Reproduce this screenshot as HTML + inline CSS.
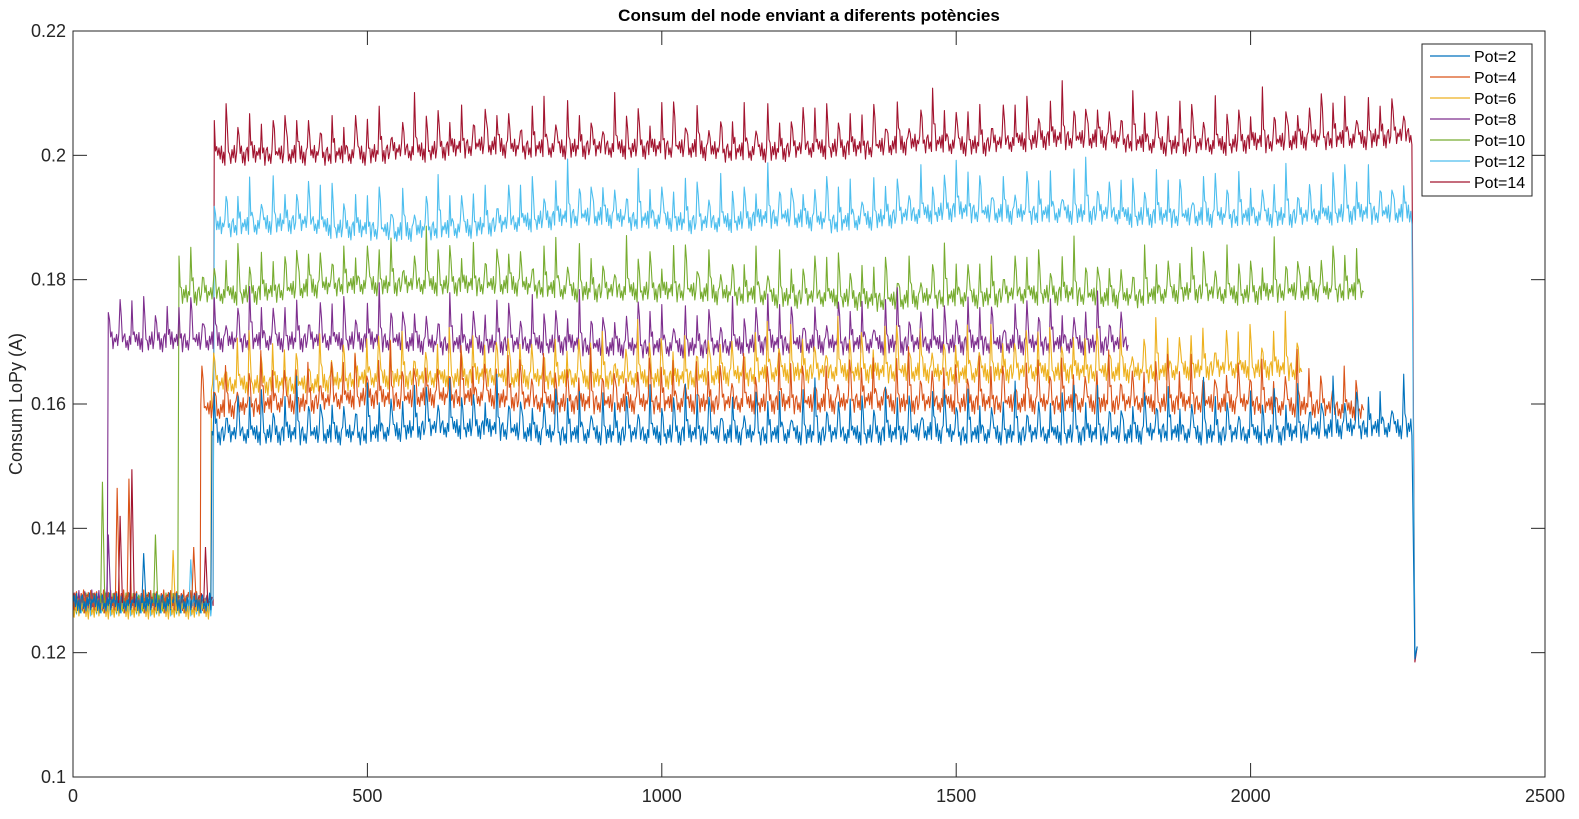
<!DOCTYPE html>
<html><head><meta charset="utf-8">
<style>
html,body{margin:0;padding:0;background:#fff;}
svg{display:block;font-family:"Liberation Sans",Arial,sans-serif;}
</style></head>
<body>
<svg id="chart" width="1579" height="819" viewBox="0 0 1579 819">
<rect x="0" y="0" width="1579" height="819" fill="#fff"/>
<text x="809" y="21" text-anchor="middle" font-size="17" font-weight="bold" fill="#000">Consum del node enviant a diferents potències</text>
<text transform="translate(22,404) rotate(-90)" text-anchor="middle" font-size="18" fill="#262626">Consum LoPy (A)</text>
<g id="plot"></g>
<g id="axes"></g>
<g id="legend"></g>
</svg>
<script>
const xTicks=[0,500,1000,1500,2000,2500];
const yTicks=[0.1,0.12,0.14,0.16,0.18,0.2,0.22];
const yTickLabels=["0.1","0.12","0.14","0.16","0.18","0.2","0.22"];
const seriesNames=["Pot=2","Pot=4","Pot=6","Pot=8","Pot=10","Pot=12","Pot=14"];
const seriesColors=["#0072BD","#D95319","#EDB120","#7E2F8E","#77AC30","#4DBEEE","#A2142F"];
const jumpX=[236,217,235,60,180,240,240];
const endX=[2275,2190,2085,1790,2190,2275,2275];
const preLevel=[0.128,0.1285,0.127,0.1285,0.128,0.1275,0.128];
// baseline levels every 50 units from 250 to 2250
const base2=[0.155,0.155,0.155,0.155,0.155,0.155,0.1555,0.156,0.156,0.156,0.1555,0.155,0.155,0.155,0.155,0.155,0.155,0.155,0.155,0.155,0.155,0.155,0.155,0.155,0.1555,0.155,0.155,0.155,0.155,0.155,0.155,0.155,0.1555,0.155,0.155,0.155,0.155,0.1555,0.156,0.156,0.156];
const base4=[0.159,0.1595,0.16,0.16,0.1605,0.161,0.1605,0.161,0.161,0.161,0.1605,0.16,0.16,0.16,0.16,0.16,0.16,0.16,0.16,0.16,0.16,0.16,0.1605,0.16,0.16,0.16,0.16,0.16,0.16,0.16,0.16,0.16,0.16,0.16,0.16,0.16,0.1595,0.1595,0.159,0.159,0.159];
const base6=[0.163,0.163,0.163,0.163,0.1635,0.164,0.164,0.164,0.164,0.1645,0.164,0.164,0.164,0.164,0.164,0.164,0.164,0.1645,0.1645,0.165,0.165,0.165,0.165,0.165,0.165,0.1645,0.165,0.165,0.165,0.165,0.165,0.165,0.165,0.1655,0.1655,0.1655,0.1655,0.165,0.165,0.165,0.165];
const base8=[0.170,0.170,0.170,0.170,0.170,0.170,0.170,0.1695,0.1695,0.1695,0.1695,0.1695,0.1695,0.169,0.169,0.169,0.169,0.169,0.1695,0.1695,0.1695,0.1695,0.1695,0.1695,0.1695,0.1695,0.1695,0.1695,0.1695,0.1695,0.1695,0.1695,0.1695,0.1695,0.1695,0.1695,0.1695,0.1695,0.1695,0.1695,0.1695];
const base10=[0.1775,0.1775,0.178,0.1785,0.179,0.179,0.179,0.179,0.179,0.179,0.179,0.1785,0.178,0.178,0.178,0.178,0.178,0.1775,0.1775,0.177,0.177,0.177,0.1765,0.1765,0.177,0.177,0.177,0.1775,0.1775,0.1775,0.177,0.177,0.1775,0.178,0.1775,0.1775,0.178,0.178,0.178,0.178,0.178];
const base12=[0.1885,0.1885,0.189,0.189,0.188,0.188,0.1875,0.188,0.188,0.1885,0.189,0.1895,0.19,0.19,0.1895,0.1895,0.189,0.189,0.1895,0.19,0.1895,0.189,0.1895,0.19,0.1905,0.191,0.1905,0.1905,0.1905,0.1905,0.1905,0.19,0.19,0.19,0.19,0.19,0.19,0.19,0.1905,0.1905,0.1905];
const base14=[0.2,0.2,0.2,0.2,0.2,0.2,0.2005,0.2005,0.201,0.2015,0.201,0.201,0.201,0.201,0.201,0.201,0.201,0.2005,0.2005,0.2005,0.201,0.201,0.201,0.2015,0.202,0.2015,0.2015,0.202,0.2025,0.2025,0.2025,0.202,0.2015,0.2015,0.2015,0.202,0.202,0.2025,0.2025,0.2025,0.203];
const bases=[base2,base4,base6,base8,base10,base12,base14];
const ripple=[0,0.0012,-0.0006,0.0015,-0.0012,0.0005,-0.0016,0.0008,0.0013,-0.0009,0.0002,-0.0013,0.0009,-0.0004,0.0016,-0.0011,0.0006];
const spikeAmp=[0.0055,0.004,0.0075,0.0045,0.0065,0.0035,0.006,0.008,0.005,0.0065,0.0042];
const idlePeakSeries=[4,1,1,6,6,3,4,0,2,5,6,1];
const idlePeakX=[50,75,95,80,100,60,140,120,170,200,225,205];
const idlePeakY=[0.1475,0.1465,0.148,0.142,0.1495,0.139,0.139,0.136,0.1365,0.135,0.137,0.137];
const dropSeries=[0,5,6];
const dropY=[0.119,0.1195,0.1185];

const X0=73,X1=1545,Y0=777,Y1=31;
const sx=v=>X0+(v-0)/(2500-0)*(X1-X0);
const sy=v=>Y0-(v-0.1)/(0.22-0.1)*(Y0-Y1);
const NS="http://www.w3.org/2000/svg";
const plot=document.getElementById('plot'),axes=document.getElementById('axes'),legend=document.getElementById('legend');
function mk(t,a,p){const e=document.createElementNS(NS,t);for(const k in a)e.setAttribute(k,a[k]);p.appendChild(e);return e;}
function baseAt(arr,x){
  let t=(x-250)/50; if(t<0)t=0; if(t>arr.length-1)t=arr.length-1;
  const i=Math.floor(t),f=t-i; const a=arr[i],b=arr[Math.min(i+1,arr.length-1)];
  return a+(b-a)*f;
}
const order=[6,5,4,3,2,1,0];
for(const s of order){
  const pts=[];let k=s*5;
  for(let x=0;x<jumpX[s];x+=2){
    pts.push([x,preLevel[s]+ripple[(k++)%ripple.length]*1.0]);
  }
  let sp=s*2,dec=0,amp=0;
  for(let x=jumpX[s];x<=endX[s];x+=2){
    const xb=Math.max(x,250);
    let v=baseAt(bases[s],xb)+ripple[(k++)%ripple.length];
    const n=Math.round(x/2)%10;
    if(n===0){amp=spikeAmp[(sp++)%spikeAmp.length];v+=amp;}
    else if(n===1){v+=amp*0.45;}
    else if(n===2){v+=amp*0.2;}
    pts.push([x,v]);
  }
  const di=dropSeries.indexOf(s);
  if(di>=0){pts.push([endX[s]+4,dropY[di]]);pts.push([endX[s]+8,0.121]);}
  else pts.push([endX[s]+2,baseAt(bases[s],endX[s])]);
  const d=pts.map((p,i)=>(i?'L':'M')+sx(p[0]).toFixed(1)+' '+sy(p[1]).toFixed(1)).join('');
  const path=mk('path',{d:d,fill:'none',stroke:seriesColors[s],'stroke-width':1.1,'stroke-linejoin':'round'},plot);
  
  
}
for(let j=0;j<idlePeakSeries.length;j++){
  const s=idlePeakSeries[j],x=idlePeakX[j];
  const pk=mk('path',{d:'M'+sx(x-3)+' '+sy(preLevel[s])+'L'+sx(x)+' '+sy(idlePeakY[j])+'L'+sx(x+4)+' '+sy(preLevel[s]),fill:'none',stroke:seriesColors[s],'stroke-width':1.1},plot);
  
  
}
const box=mk('rect',{x:X0,y:Y1,width:X1-X0,height:Y0-Y1,fill:'none',stroke:'#262626','stroke-width':1},axes);


xTicks.forEach(t=>{
  const x=sx(t);
  mk('line',{x1:x,x2:x,y1:Y0,y2:Y0-14,stroke:'#262626'},axes);
  mk('line',{x1:x,x2:x,y1:Y1,y2:Y1+14,stroke:'#262626'},axes);
  const tx=mk('text',{x:x,y:802,'text-anchor':'middle','font-size':18,fill:'#262626'},axes);
  tx.textContent=t;
  
  
});
yTicks.forEach((t,i)=>{
  const y=sy(t);
  mk('line',{x1:X0,x2:X0+14,y1:y,y2:y,stroke:'#262626'},axes);
  mk('line',{x1:X1,x2:X1-14,y1:y,y2:y,stroke:'#262626'},axes);
  const tx=mk('text',{x:X0-7,y:y+6,'text-anchor':'end','font-size':18,fill:'#262626'},axes);
  tx.textContent=yTickLabels[i];
  
  
});
const lb=mk('rect',{x:1422,y:44,width:110,height:152,fill:'#fff',stroke:'#262626','stroke-width':1},legend);


seriesNames.forEach((n,i)=>{
  const y=56+i*21;
  const g=mk('g',{},legend);
  
  
  mk('line',{x1:1430,x2:1470,y1:y,y2:y,stroke:seriesColors[i],'stroke-width':1.2},g);
  const t=mk('text',{x:1474,y:y+6,'font-size':16,fill:'#000'},g);
  t.textContent=n;
});
</script>
</body></html>
